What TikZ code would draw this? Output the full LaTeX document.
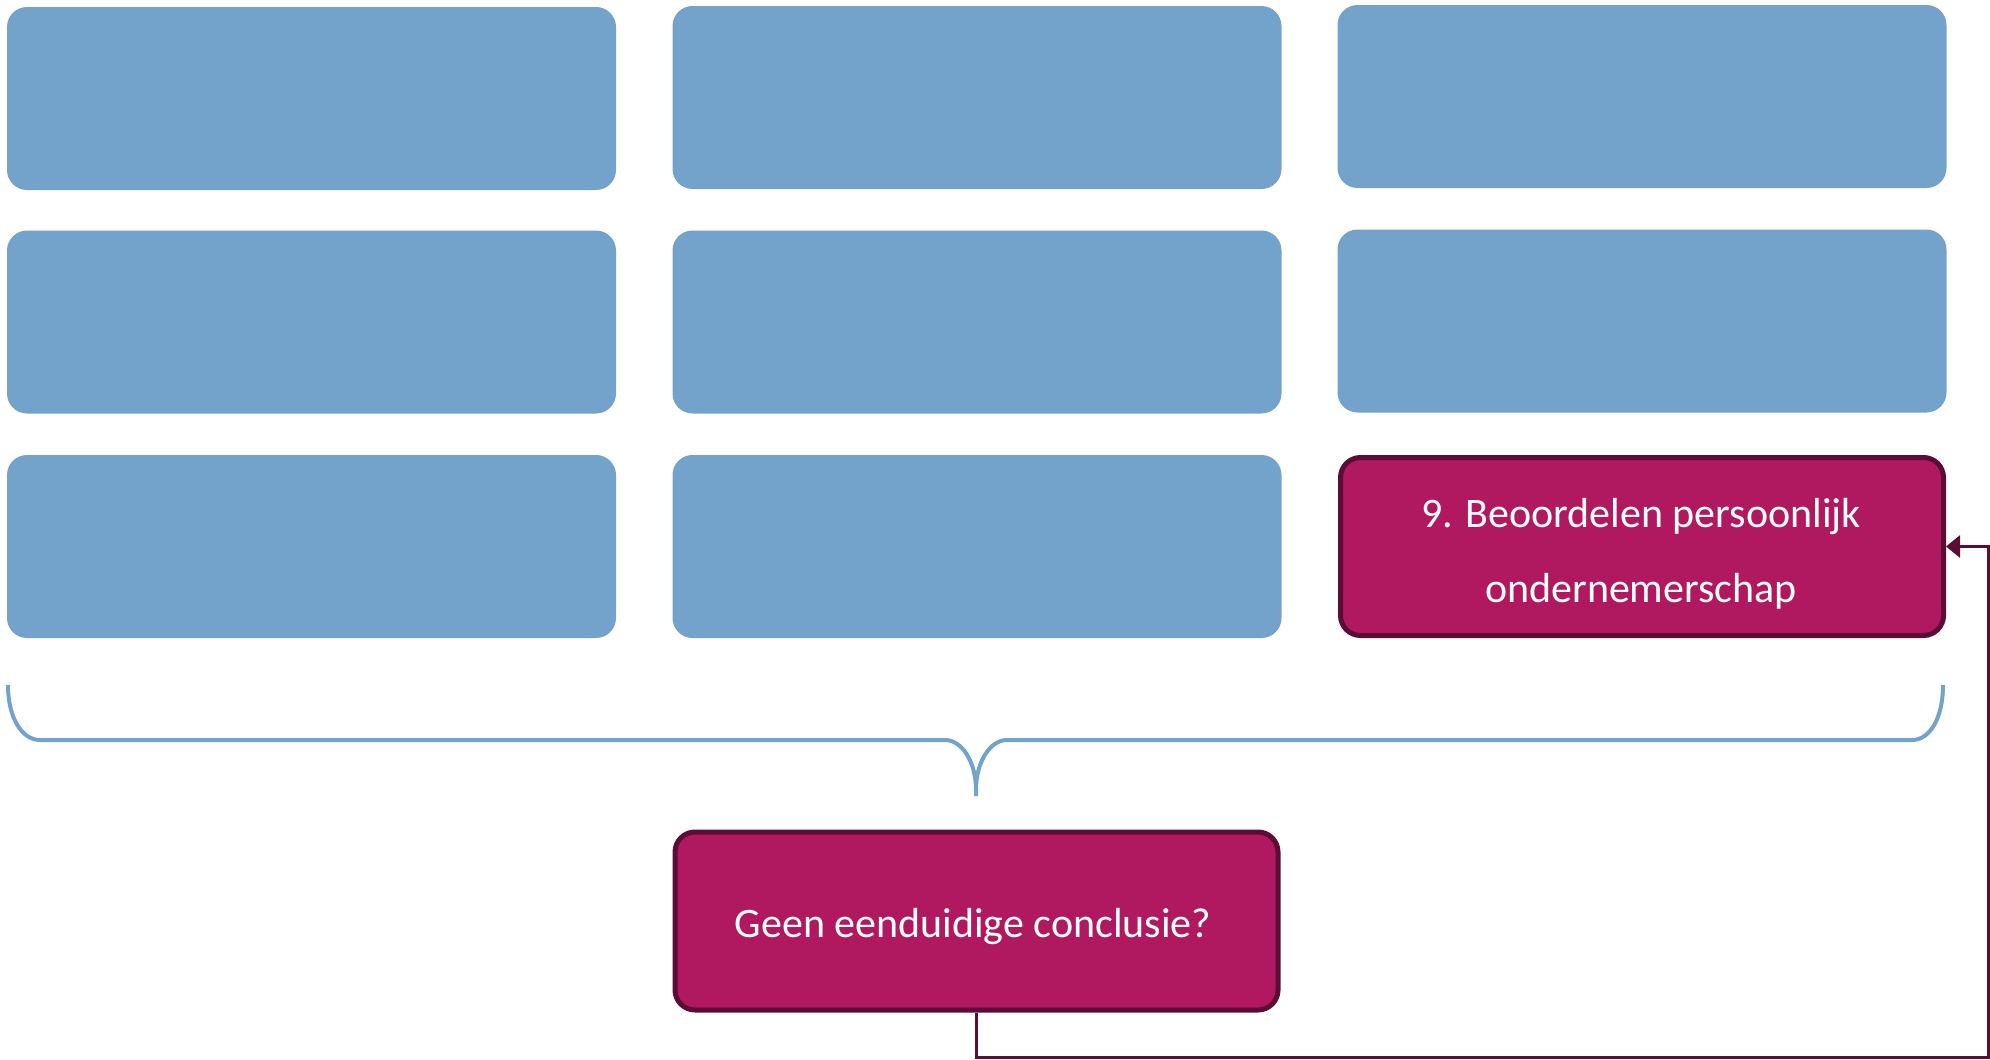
\documentclass[tikz,border=0pt]{standalone}
\usepackage{fontspec}
\setmainfont{Carlito}
\usetikzlibrary{arrows.meta}
\definecolor{boxblue}{HTML}{73A2CB}
\definecolor{magfill}{HTML}{B0195F}
\definecolor{magdark}{HTML}{5C0D35}
\tikzset{
  bluebox/.style={fill=boxblue, draw=none, rounded corners=20pt, minimum width=609pt, minimum height=183pt, inner sep=0pt},
  magbox/.style={fill=magfill, draw=magdark, line width=5pt, rounded corners=20pt, minimum width=603pt, minimum height=178pt, inner sep=0pt},
  txt/.style={text=white, font=\fontsize{42pt}{50pt}\selectfont, inner sep=0pt, anchor=base},
  brace/.style={draw=boxblue, line width=4pt},
  conn/.style={draw=magdark, line width=3pt},
}
\begin{document}
\begin{tikzpicture}[x=1pt,y=-1pt]
\useasboundingbox (0,0) rectangle (1990,1060);
% column 1
\node[bluebox] (a1) at (311.5,98.5) {};
\node[bluebox] (a2) at (311.5,322) {};
\node[bluebox] (a3) at (311.5,546.5) {};
% column 2
\node[bluebox] (b1) at (977,97.5) {};
\node[bluebox] (b2) at (977,322) {};
\node[bluebox] (b3) at (977,546.5) {};
% column 3
\node[bluebox] (c1) at (1642,96.5) {};
\node[bluebox] (c2) at (1642,321) {};
\node[magbox] (b9) at (1642,546.5) {};
\node[txt] (t9a) at (1641,527) {9. Beoordelen persoonlijk};
\node[txt] (t9b) at (1641,602) {ondernemerschap};
% bottom box
\node[magbox] (geen) at (976.5,921) {};
\node[txt] (tg) at (973,937) {Geen eenduidige conclusie?};
% brace
\draw[brace] (8,685) .. controls (8,718) and (22,740) .. (40,740) -- (945,740)
  .. controls (962,740) and (976,762) .. (976,790) -- (976,796);
\draw[brace] (1943,685) .. controls (1943,718) and (1930,740) .. (1912,740) -- (1007,740)
  .. controls (990,740) and (976,762) .. (976,790);
% connector
\coordinate (rc) at (1988,1057);
\draw[conn, -{Triangle[length=14pt,width=22pt]}] (geen.south) |- (rc) |- (b9.east);
\end{tikzpicture}
\end{document}
